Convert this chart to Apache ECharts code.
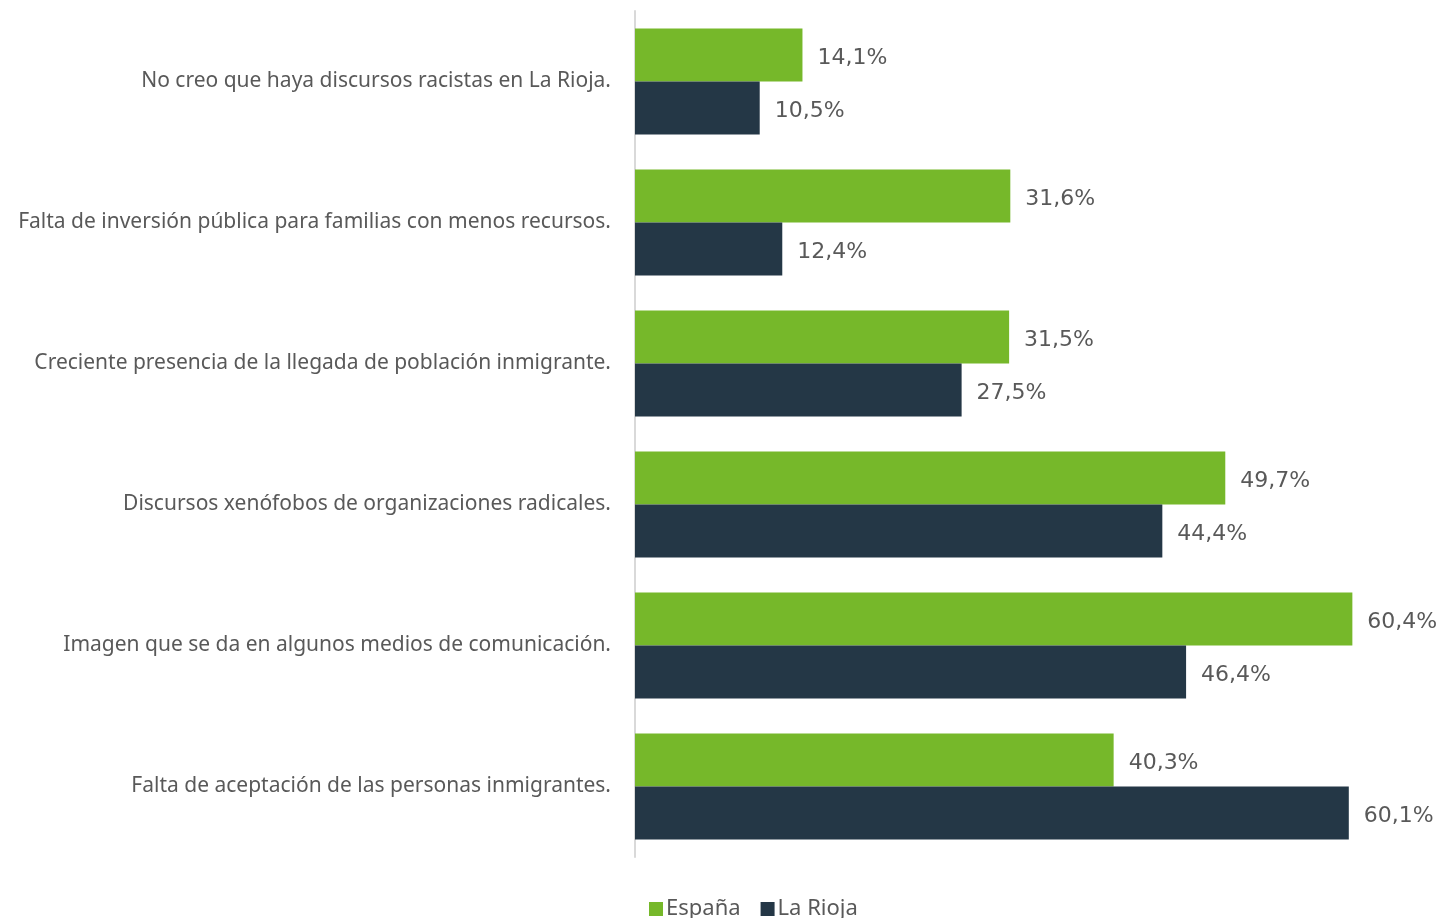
<!DOCTYPE html>
<html>
<head>
<meta charset="utf-8">
<script src="https://cdn.jsdelivr.net/npm/echarts@6/dist/echarts.min.js"></script>
<style>
  html, body { margin: 0; padding: 0; background: #fff; }
  #chart { width: 1444px; height: 918px; }
</style>
</head>
<body>
<div id="chart"></div>
<script>
const categories = [
  'No creo que haya discursos racistas en La Rioja.',
  'Falta de inversión pública para familias con menos recursos.',
  'Creciente presencia de la llegada de población inmigrante.',
  'Discursos xenófobos de organizaciones radicales.',
  'Imagen que se da en algunos medios de comunicación.',
  'Falta de aceptación de las personas inmigrantes.'
]
const espana = [14.1, 31.6, 31.5, 49.7, 60.4, 40.3]
const laRioja = [10.5, 12.4, 27.5, 44.4, 46.4, 60.1]

const chart = echarts.init(document.getElementById('chart'))

const valueLabel = {
  show: true,
  position: 'right',
  distance: 15,
  offset: [0, 3],
  color: '#595959',
  fontSize: 22,
  fontFamily: 'DejaVu Sans',
  formatter: (p) => p.value.toFixed(1).replace('.', ',') + '%'
}

const option = {
  animation: false,
  legend: {
    data: ['España', 'La Rioja'],
    bottom: -7,
    left: 644,
    itemWidth: 14,
    itemHeight: 14,
    itemGap: 20,
    icon: 'rect',
    textStyle: { color: '#595959', fontSize: 22, fontFamily: 'Noto Sans', padding: [0, 0, 0, -2] }
  },
  grid: {
    left: 635,
    top: 11,
    width: 772,
    height: 846
  },
  xAxis: {
    type: 'value',
    min: 0,
    max: 65,
    show: false
  },
  yAxis: {
    type: 'category',
    data: categories,
    inverse: true,
    axisLine: { show: true, lineStyle: { color: '#d9d9d9', width: 2 } },
    axisTick: { show: false },
    axisLabel: {
      color: '#595959',
      fontSize: 21,
      fontFamily: 'Noto Sans',
      margin: 24,
      padding: [4, 0, 0, 0]
    }
  },
  series: [
    {
      name: 'España',
      type: 'bar',
      data: espana,
      barWidth: 53,
      barGap: '0%',
      itemStyle: { color: '#76b82a' },
      label: valueLabel
    },
    {
      name: 'La Rioja',
      type: 'bar',
      data: laRioja,
      barWidth: 53,
      barGap: '0%',
      itemStyle: { color: '#243746' },
      label: valueLabel
    }
  ]
}

chart.setOption(option)
window.addEventListener('resize', () => chart.resize())
</script>
</body>
</html>
